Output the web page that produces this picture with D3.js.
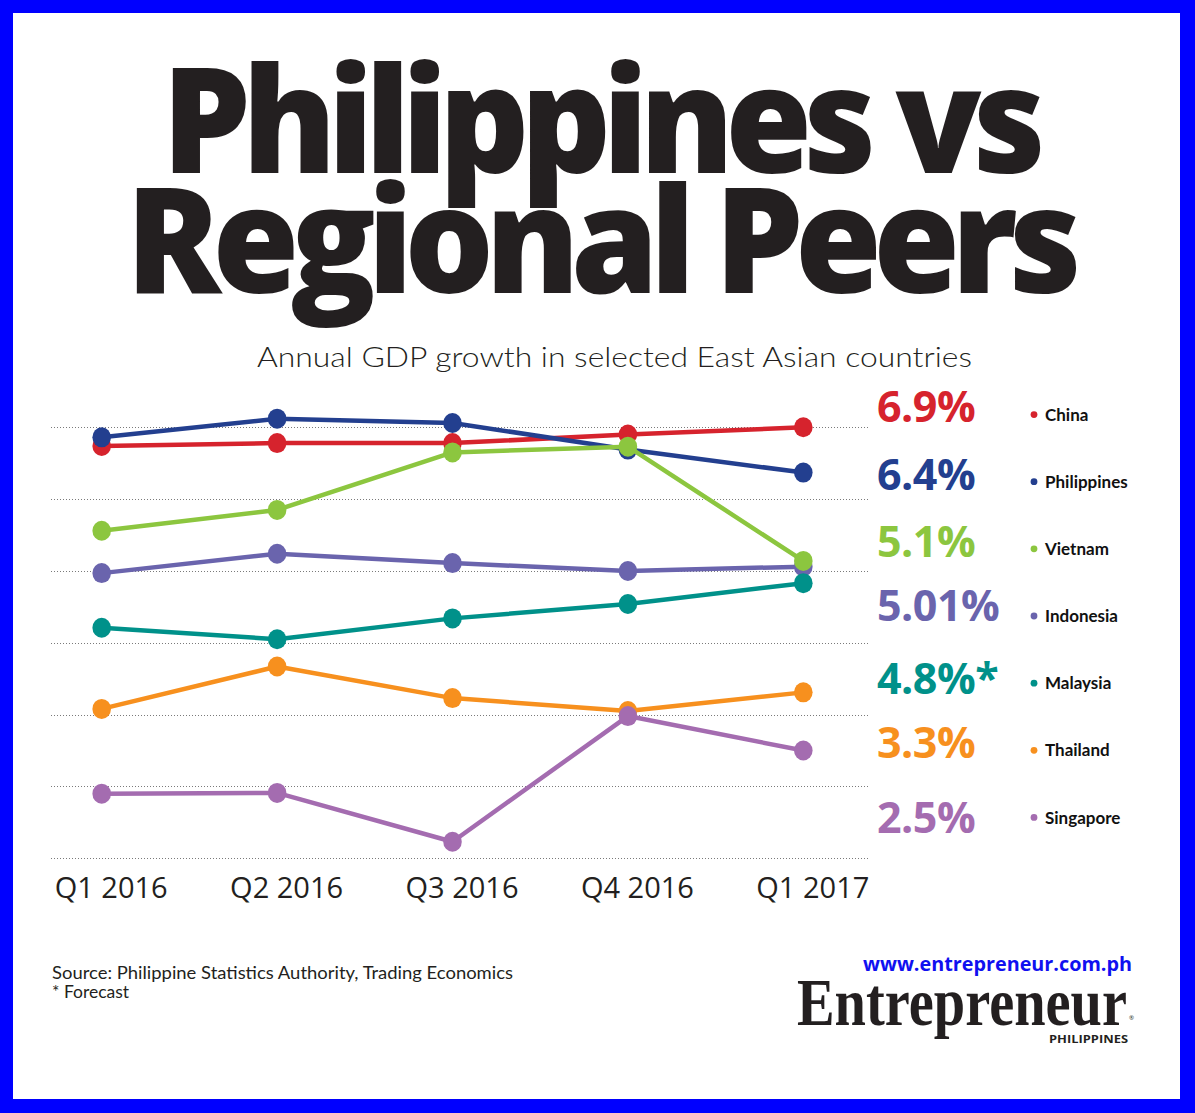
<!DOCTYPE html>
<html>
<head>
<meta charset="utf-8">
<script src="https://cdn.jsdelivr.net/npm/d3@7"></script>
<style>
html,body{margin:0;padding:0;background:#fff;}
svg{display:block;}
</style>
</head>
<body>
<svg id="chart" width="1195" height="1113"></svg>
<script>
// ---- data ----
const quarters = ["Q1 2016", "Q2 2016", "Q3 2016", "Q4 2016", "Q1 2017"];
const countries = ["China", "Philippines", "Vietnam", "Indonesia", "Malaysia", "Thailand", "Singapore"];
const chinaValues       = [6.74, 6.78, 6.78, 6.90, 7.00];
const philippinesValues = [6.86, 7.12, 7.06, 6.69, 6.37];
const vietnamValues     = [5.56, 5.85, 6.65, 6.73, 5.14];
const indonesiaValues   = [4.97, 5.24, 5.11, 5.00, 5.06];
const malaysiaValues    = [4.21, 4.05, 4.34, 4.54, 4.83];
const thailandValues    = [3.08, 3.67, 3.23, 3.05, 3.31];
const singaporeValues   = [1.90, 1.91, 1.23, 2.98, 2.50];
const latestLabels = ["6.9%", "6.4%", "5.1%", "5.01%", "4.8%*", "3.3%", "2.5%"];
const gridTicks = [1, 2, 3, 4, 5, 6, 7];
const colors = ["#d6232d", "#233f8f", "#8cc63f", "#6a64ad", "#00918a", "#f7901e", "#a46cb0"];

const seriesValues = [chinaValues, philippinesValues, vietnamValues, indonesiaValues, malaysiaValues, thailandValues, singaporeValues];
const series = countries.map((c, i) => ({name: c, color: colors[i], label: latestLabels[i],
  values: seriesValues[i].map((v, j) => ({q: quarters[j], v}))}));

const svg = d3.select("#chart");
const ink = "#231f20";

// frame
svg.append("rect").attr("x", 0).attr("y", 0).attr("width", 1195).attr("height", 1113).attr("fill", "#0000ff");
svg.append("rect").attr("x", 13).attr("y", 13).attr("width", 1167).attr("height", 1086).attr("fill", "#ffffff");

// title
svg.append("text").attr("x", 162).attr("y", 173).attr("textLength", 875).attr("lengthAdjust", "spacingAndGlyphs")
  .attr("letter-spacing", -9)
  .attr("font-family", "'Open Sans', sans-serif").attr("font-weight", 800).attr("font-size", 147)
  .attr("fill", ink).text("Philippines vs");
svg.append("text").attr("x", 126).attr("y", 293).attr("textLength", 947).attr("lengthAdjust", "spacingAndGlyphs")
  .attr("letter-spacing", -9)
  .attr("font-family", "'Open Sans', sans-serif").attr("font-weight", 800).attr("font-size", 147)
  .attr("fill", ink).text("Regional Peers");

// subtitle
svg.append("text").attr("x", 257).attr("y", 367).attr("textLength", 715).attr("lengthAdjust", "spacingAndGlyphs")
  .attr("font-family", "Lato, sans-serif").attr("font-weight", 300).attr("font-size", 28)
  .attr("fill", ink).text("Annual GDP growth in selected East Asian countries");

// scales
const x = d3.scalePoint().domain(quarters).range([101.7, 803.3]).padding(0);
const y = d3.scaleLinear().domain([1, 7]).range([858.3, 427.3]);

// gridlines
svg.append("g").selectAll("line").data(gridTicks).join("line")
  .attr("x1", 51).attr("x2", 870)
  .attr("y1", d => Math.round(y(d)) + 0.5).attr("y2", d => Math.round(y(d)) + 0.5)
  .attr("stroke", "#7a7a7a").attr("stroke-width", 1).attr("stroke-dasharray", "1,2");

// x axis labels
const xAxis = d3.axisBottom(x).tickSize(0).tickPadding(0);
const gx = svg.append("g").attr("transform", "translate(9,898)").call(xAxis);
gx.select(".domain").remove();
gx.selectAll("text").attr("dy", 0).attr("font-family", "'Open Sans', sans-serif").attr("font-weight", 500)
  .attr("font-size", 29).attr("fill", ink);

// lines & points
const line = d3.line().x(d => x(d.q)).y(d => y(d.v));
const drawOrder = ["China", "Indonesia", "Philippines", "Vietnam", "Malaysia", "Thailand", "Singapore"];
const gS = svg.append("g").selectAll("g").data(drawOrder.map(n => series.find(s => s.name === n))).join("g");
gS.append("path").attr("d", d => line(d.values)).attr("fill", "none")
  .attr("stroke", d => d.color).attr("stroke-width", 4.5).attr("stroke-linejoin", "round");
gS.selectAll("ellipse").data(d => d.values.map(p => ({...p, color: d.color}))).join("ellipse")
  .attr("cx", d => x(d.q)).attr("cy", d => y(d.v)).attr("rx", 9.3).attr("ry", 10)
  .attr("fill", d => d.color);

// right-hand latest values and legend
const row = d3.scaleBand().domain(countries).range([381, 851]);
const valueNudge = [0, 1, 1, -3, 3, 0, 8]; // layout: small vertical shifts of the big value labels
const gL = svg.append("g").selectAll("g").data(series).join("g")
  .attr("transform", d => `translate(0,${row(d.name) + row.bandwidth() / 2})`);
gL.append("text").attr("x", 877).attr("y", (d, i) => 7.5 + valueNudge[i]).attr("font-family", "'Open Sans', sans-serif")
  .attr("font-weight", 700).attr("font-size", 43).attr("fill", d => d.color).attr("letter-spacing", -0.5)
  .text(d => d.label);
gL.append("circle").attr("cx", 1034).attr("cy", 0).attr("r", 3.4).attr("fill", d => d.color);
gL.append("text").attr("x", 1045).attr("y", 6.2).attr("font-family", "Lato, sans-serif")
  .attr("font-weight", 700).attr("font-size", 17).attr("fill", "#111").text(d => d.name);

// source
svg.append("text").attr("x", 52).attr("y", 979).attr("textLength", 461).attr("lengthAdjust", "spacingAndGlyphs")
  .attr("font-family", "Lato, sans-serif").attr("font-weight", 400).attr("font-size", 17.5)
  .attr("fill", ink).text("Source: Philippine Statistics Authority, Trading Economics");
svg.append("text").attr("x", 52).attr("y", 998)
  .attr("font-family", "Lato, sans-serif").attr("font-weight", 400).attr("font-size", 17.5)
  .attr("fill", ink).text("* Forecast");

// branding
svg.append("text").attr("x", 863).attr("y", 971).attr("textLength", 269).attr("lengthAdjust", "spacingAndGlyphs")
  .attr("font-family", "'Open Sans', sans-serif").attr("font-weight", 700).attr("font-size", 20)
  .attr("fill", "#1010f0").text("www.entrepreneur.com.ph");
svg.append("text").attr("x", 797).attr("y", 1025).attr("textLength", 330).attr("lengthAdjust", "spacingAndGlyphs")
  .attr("font-family", "'Liberation Serif', serif").attr("font-weight", 700).attr("font-size", 68)
  .attr("fill", ink).text("Entrepreneur");
svg.append("text").attr("x", 1129).attr("y", 1020)
  .attr("font-family", "'Open Sans', sans-serif").attr("font-size", 6).attr("fill", ink).text("®");
svg.append("text").attr("x", 1049).attr("y", 1043).attr("textLength", 79).attr("lengthAdjust", "spacingAndGlyphs")
  .attr("font-family", "'Open Sans', sans-serif").attr("font-weight", 700).attr("font-size", 10)
  .attr("fill", ink).text("PHILIPPINES");
</script>
</body>
</html>
